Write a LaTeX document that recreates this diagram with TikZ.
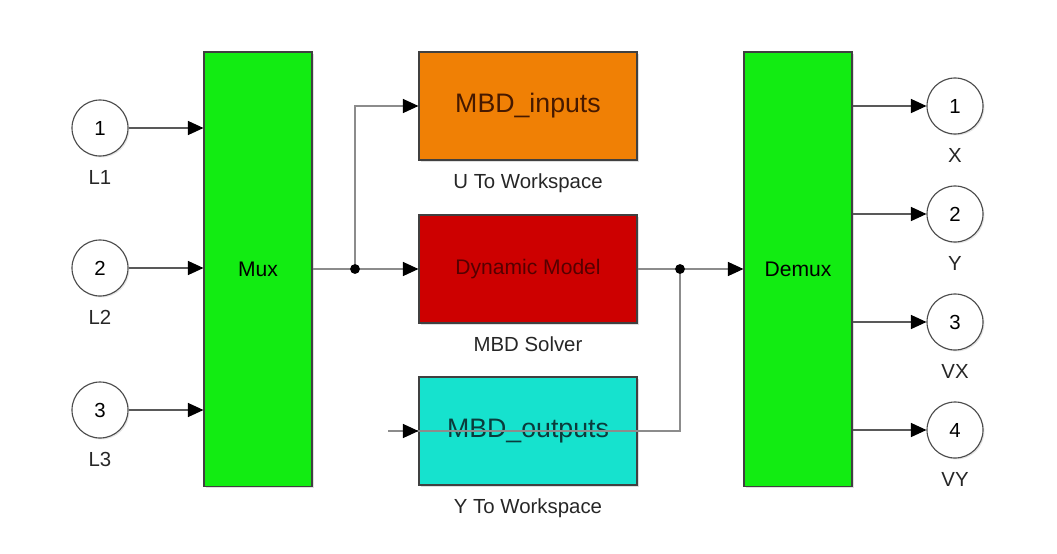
\documentclass[tikz,border=0pt]{standalone}
\usepackage{fontspec}
\setmainfont{Liberation Sans}
\usepackage{xcolor}
\usetikzlibrary{shapes,arrows,positioning,shadows,arrows.meta}

\definecolor{muxgreen}{RGB}{18,236,18}
\definecolor{wsorange}{RGB}{240,128,5}
\definecolor{modelred}{RGB}{205,0,0}
\definecolor{wscyan}{RGB}{22,226,206}
\definecolor{wireg}{RGB}{140,140,140}

\tikzset{
    muxbox/.style={draw=black!75, line width=0.8pt, fill=muxgreen,
        minimum width=2.7cm, minimum height=10.85cm,
        font=\fontsize{15}{17}\selectfont,
        drop shadow={shadow xshift=1.2pt, shadow yshift=-1.2pt, opacity=0.25}},
    blockbox/.style={draw=black!75, line width=0.8pt,
        minimum width=5.45cm, minimum height=2.7cm,
        font=\fontsize{19}{21}\selectfont,
        drop shadow={shadow xshift=1.2pt, shadow yshift=-1.2pt, opacity=0.25}},
    portcirc/.style={circle, draw=black!70, line width=0.8pt, fill=white,
        minimum size=1.4cm, inner sep=0pt,
        font=\fontsize{14.5}{16}\selectfont,
        drop shadow={shadow xshift=1pt, shadow yshift=-1pt, opacity=0.2}},
    sig/.style={draw=wireg, line width=0.75pt,
        -{Triangle[length=11pt,width=10pt,color=black]}},
    wire/.style={draw=wireg, line width=0.75pt},
    splitdot/.style={fill=black, circle, inner sep=0pt, minimum size=7pt},
    every label/.style={font=\fontsize{14.5}{16}\selectfont, text=black!85},
    label distance=6pt
}

\begin{document}
\begin{tikzpicture}[x=0.025cm, y=-0.025cm]
    \useasboundingbox (0,0) rectangle (1057,553);

    % Mux and Demux
    \node[muxbox] (mux) at (258,269) {Mux};
    \node[muxbox] (demux) at (798,269) {Demux};

    % Workspace blocks and solver
    \node[blockbox, fill=wsorange, text={rgb,255:red,70;green,25;blue,0},
        label=below:{U To Workspace}] (uws) at (528,106) {MBD\_inputs};
    \node[blockbox, fill=modelred, text={rgb,255:red,85;green,0;blue,0},
        font=\fontsize{15}{17}\selectfont,
        label=below:{MBD Solver}] (dyn) at (528,269) {Dynamic Model};
    \node[blockbox, fill=wscyan, text={rgb,255:red,10;green,60;blue,60},
        label=below:{Y To Workspace}] (yws) at (528,431) {MBD\_outputs};

    % Inports
    \foreach \i/\y/\lab in {1/128/L1, 2/268/L2, 3/410/L3} {
        \node[portcirc, label=below:{\lab}] (in\i) at (100,\y) {\i};
        \draw[sig, draw=black!65] (in\i.east) -- (in\i.east -| mux.west);
    }

    % Outports
    \foreach \i/\y/\lab in {1/106/X, 2/214/Y, 3/322/VX, 4/430/VY} {
        \node[portcirc, label=below:{\lab}] (out\i) at (955,\y) {\i};
        \draw[sig, draw=black!65] (out\i.west -| demux.east) -- (out\i.west);
    }

    % Branch points
    \coordinate (split1) at (355,269);
    \coordinate (split2) at (680,269);
    \coordinate (fb) at (388,431);

    \draw[wire] (mux.east) -- (split1);
    \draw[sig] (split1) -- (dyn.west);
    \draw[sig] (split1) |- (uws.west);

    \draw[wire] (dyn.east) -- (split2);
    \draw[sig] (split2) -- (demux.west);
    \draw[sig] (split2) |- (fb) -- (yws.west);

    \node[splitdot] at (split1) {};
    \node[splitdot] at (split2) {};
\end{tikzpicture}
\end{document}
